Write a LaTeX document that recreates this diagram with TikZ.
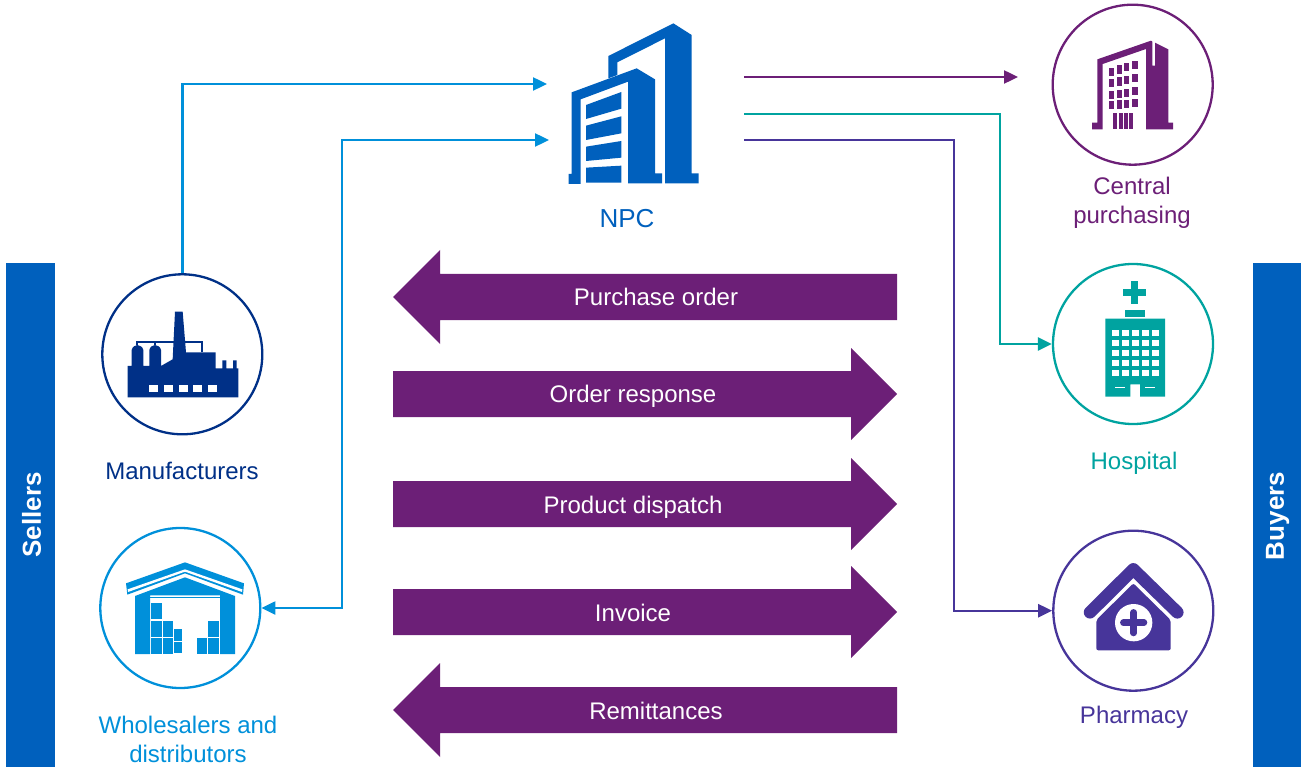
\documentclass[tikz,border=0pt]{standalone}
\usepackage{fontspec}
\setmainfont{Liberation Sans}
\usetikzlibrary{arrows.meta}
\definecolor{npcblue}{HTML}{0060BD}
\definecolor{skyblue}{HTML}{0090DA}
\definecolor{navyblue}{HTML}{003087}
\definecolor{flowpurple}{HTML}{6C1F77}
\definecolor{hospteal}{HTML}{00A3A0}
\definecolor{pharmindigo}{HTML}{47359A}
\begin{document}
\begin{tikzpicture}[
        x=1pt, y=-1pt,
        party/.style={circle, draw, line width=2.3pt, minimum size=160pt, inner sep=0pt},
        link/.style={line width=2.4pt, -{Triangle[length=14pt,width=13pt]}},
        caption/.style={font=\fontsize{24}{29}\selectfont, align=center},
        flowtext/.style={font=\fontsize{24}{29}\selectfont, text=white},
        sidetext/.style={font=\fontsize{26}{29}\selectfont\bfseries, text=white, rotate=90},
        icon/.style={scale=1/3}
    ]
        \useasboundingbox (0,0) rectangle (1309,767);

        % Side bars
        \fill[npcblue] (6,263) rectangle (55,767);
        \fill[npcblue] (1253,263) rectangle (1301,767);
        \node[sidetext] (sellers) at (31.5,515) {Sellers};
        \node[sidetext] (buyers) at (1277.5,516) {Buyers};

        % Parties
        \node[party, draw=flowpurple] (central) at (1132.7,84.7) {};
        \node[party, draw=hospteal] (hospital) at (1133,344) {};
        \node[party, draw=pharmindigo] (pharmacy) at (1133.3,610.7) {};
        \node[party, draw=navyblue] (factory) at (182.3,354.3) {};
        \node[party, draw=skyblue] (warehouse) at (180.3,608) {};

        % NPC building
        \begin{scope}[shift={(540,10)}, icon]
            \fill[npcblue] (205,138) -- (400,40) -- (455,75) -- (455,490) -- (476,490) -- (476,520)
                -- (375,520) -- (375,85) -- (232,157) -- (232,195) -- (205,205) -- cycle;
            \fill[npcblue] (95,247) -- (290,175) -- (345,208) -- (345,490) -- (366,490) -- (366,520)
                -- (264,520) -- (264,215) -- (122,268) -- (122,522) -- (86,522) -- (86,492) -- (95,492) -- cycle;
            \fill[npcblue] (138,285) -- (244,246) -- (244,296) -- (138,327) -- cycle;
            \fill[npcblue] (138,347) -- (244,319) -- (244,370) -- (138,390) -- cycle;
            \fill[npcblue] (138,410) -- (244,393) -- (244,443) -- (138,453) -- cycle;
            \fill[npcblue] (138,473) -- (244,467) -- (244,518) -- (138,518) -- cycle;
        \end{scope}

        % Central purchasing building
        \begin{scope}[shift={(1040,0)}, icon]
            \fill[flowpurple] (172,178) -- (333,122) -- (337,125) -- (337,197) -- (345,197) -- (345,128)
                -- (385,148) -- (385,368) -- (399,368) -- (399,388) -- (318,388) -- (318,147)
                -- (188,192) -- (188,388) -- (156,388) -- (156,368) -- (172,368) -- cycle;
            % columns: x, width, and the top of each of the four rows
            \foreach \wx/\ww/\wa/\wb/\wc/\wd in {208/15/203/237/273/303, 230/15/196/232/270/301,
                252/15/189/227/266/299, 277/18/182/222/260/297} {
                \fill[flowpurple] (\wx,\wa) rectangle ++(\ww,25);
                \fill[flowpurple] (\wx,\wb) rectangle ++(\ww,25);
                \fill[flowpurple] (\wx,\wc) rectangle ++(\ww,25);
                \fill[flowpurple] (\wx,\wd) rectangle ++(\ww,25);
            }
            \foreach \wx in {220, 236, 252, 268} {
                \fill[flowpurple] (\wx,338) rectangle ++(12,50);
            }
        \end{scope}

        % Hospital building
        \begin{scope}[shift={(1040,255)}, icon]
            \fill[hospteal] (272,78) rectangle (295,148);
            \fill[hospteal] (249,102) rectangle (318,124);
            \fill[hospteal] (255,164) rectangle (315,186);
            \fill[hospteal] (196,191) -- (375,191) -- (375,425) -- (300,425) -- (300,388) -- (271,388) -- (271,425) -- (196,425) -- cycle;
            \foreach \wx in {216, 246, 276, 306, 336} {
                \foreach \wy in {225, 255, 285, 315, 345} {
                    \fill[white] (\wx,\wy) rectangle ++(20,18);
                }
            }
            \fill[white] (226,396) rectangle (255,399);
            \fill[white] (316,396) rectangle (345,399);
        \end{scope}

        % Pharmacy house
        \begin{scope}[shift={(1040,520)}, icon]
            \draw[pharmindigo, line width=12.5pt, line cap=round, line join=round] (150,277) -- (280,148) -- (412,277);
            \fill[pharmindigo, rounded corners=2pt] (280,190) -- (392,300) -- (392,391) -- (169,391) -- (169,300) -- cycle;
            \fill[white] (281,308) circle (56);
            \draw[pharmindigo, line width=6.5pt, line cap=round] (250,308) -- (312,308);
            \draw[pharmindigo, line width=6.5pt, line cap=round] (281,277) -- (281,339);
        \end{scope}

        % Factory
        \begin{scope}[shift={(90,265)}, icon]
            \draw[navyblue, line width=2.2pt] (142,240) -- (142,230) -- (335,230) -- (335,262);
            \draw[navyblue, line width=2.2pt] (195,240) -- (195,230);
            \fill[navyblue] (113,303) -- (125,303) -- (125,255) .. controls (127,245) and (135,241) .. (142,240)
                .. controls (150,241) and (158,245) .. (160,255) -- (160,303)
                -- (178,303) -- (178,255) .. controls (180,245) and (188,241) .. (195,240)
                .. controls (203,241) and (211,245) .. (213,255) -- (213,303) -- (248,283) -- (255,140)
                -- (278,140) -- (288,262) -- (377,262) -- (377,310) -- (397,310) -- (397,286) -- (409,286)
                -- (409,310) -- (429,310) -- (429,286) -- (440,286) -- (440,310) -- (445,310) -- (445,397)
                -- (113,397) -- cycle;
            \foreach \wx in {177, 222, 266, 309, 354} {
                \fill[white] (\wx,359) rectangle ++(27,22);
            }
        \end{scope}

        % Warehouse
        \begin{scope}[shift={(90,520)}, icon]
            \fill[skyblue] (108,190) -- (285,127) -- (462,190) -- (459,224) -- (285,160) -- (112,224) -- cycle;
            \fill[white] (113,208) -- (285,148) -- (457,208) -- (456,216) -- (285,155) -- (114,216) -- cycle;
            \fill[skyblue] (135,228) -- (285,172) -- (435,228) -- (435,402) -- (390,402) -- (390,226)
                -- (180,226) -- (180,402) -- (135,402) -- cycle;
            \fill[skyblue] (180,232) rectangle (390,235);
            \foreach \bx/\by/\bw/\bh in {183/250/32/48, 183/302/32/48, 218/302/32/48, 252/327/23/35,
                183/354/32/48, 218/354/32/48, 252/365/23/35, 320/354/32/48, 354/354/33/48, 354/304/33/48} {
                \fill[skyblue] (\bx,\by) rectangle ++(\bw,\bh);
            }
        \end{scope}

        % Captions
        \node[caption, font=\fontsize{26}{29}\selectfont, text=npcblue] (npc) at (627,219) {NPC};
        \node[caption, text=flowpurple] (centrallabel) at (1132,202.5) {Central\\purchasing};
        \node[caption, text=hospteal] (hospitallabel) at (1134,463) {Hospital};
        \node[caption, text=pharmindigo] (pharmacylabel) at (1134,717) {Pharmacy};
        \node[caption, text=navyblue] (factorylabel) at (182,471) {Manufacturers};
        \node[caption, text=skyblue] (warehouselabel) at (188,739.5) {Wholesalers and\\distributors};

        % Connectors
        \coordinate (npcinA) at (547,84);
        \coordinate (npcinB) at (549,140);
        \coordinate (bendB) at (342,140);
        \coordinate (npcoutA) at (744,77);
        \coordinate (npcoutAend) at (1018,77);
        \coordinate (npcoutB) at (744,114);
        \coordinate (bendC) at (1000,114);
        \coordinate (npcoutC) at (744,140);
        \coordinate (bendD) at (954,140);

        \draw[link, skyblue] (factory.north) |- (npcinA);
        \draw[link, {Triangle[length=14pt,width=13pt]}-{Triangle[length=14pt,width=13pt]}, skyblue]
            (warehouse.east) -| (bendB) -- (npcinB);
        \draw[link, flowpurple] (npcoutA) -- (npcoutAend);
        \draw[link, hospteal] (npcoutB) -- (bendC) |- (hospital.west);
        \draw[link, pharmindigo] (npcoutC) -- (bendD) |- (pharmacy.west);

        % Document flows
        \fill[flowpurple] (393,297) -- (440,250) -- (440,274) -- (897,274) -- (897,320) -- (440,320) -- (440,344) -- cycle;
        \node[flowtext] (purchase) at (656,297) {Purchase order};
        \fill[flowpurple] (897,394) -- (851,348) -- (851,371) -- (393,371) -- (393,417) -- (851,417) -- (851,440) -- cycle;
        \node[flowtext] (response) at (633,396) {Order response};
        \fill[flowpurple] (897,504) -- (851,458) -- (851,481) -- (393,481) -- (393,527) -- (851,527) -- (851,550) -- cycle;
        \node[flowtext] (dispatch) at (633,507) {Product dispatch};
        \fill[flowpurple] (897,612) -- (851,566) -- (851,589) -- (393,589) -- (393,635) -- (851,635) -- (851,658) -- cycle;
        \node[flowtext] (invoice) at (633,613) {Invoice};
        \fill[flowpurple] (393,710) -- (440,663) -- (440,687) -- (897,687) -- (897,733) -- (440,733) -- (440,757) -- cycle;
        \node[flowtext] (remittances) at (656,711) {Remittances};
    \end{tikzpicture}
\end{document}
